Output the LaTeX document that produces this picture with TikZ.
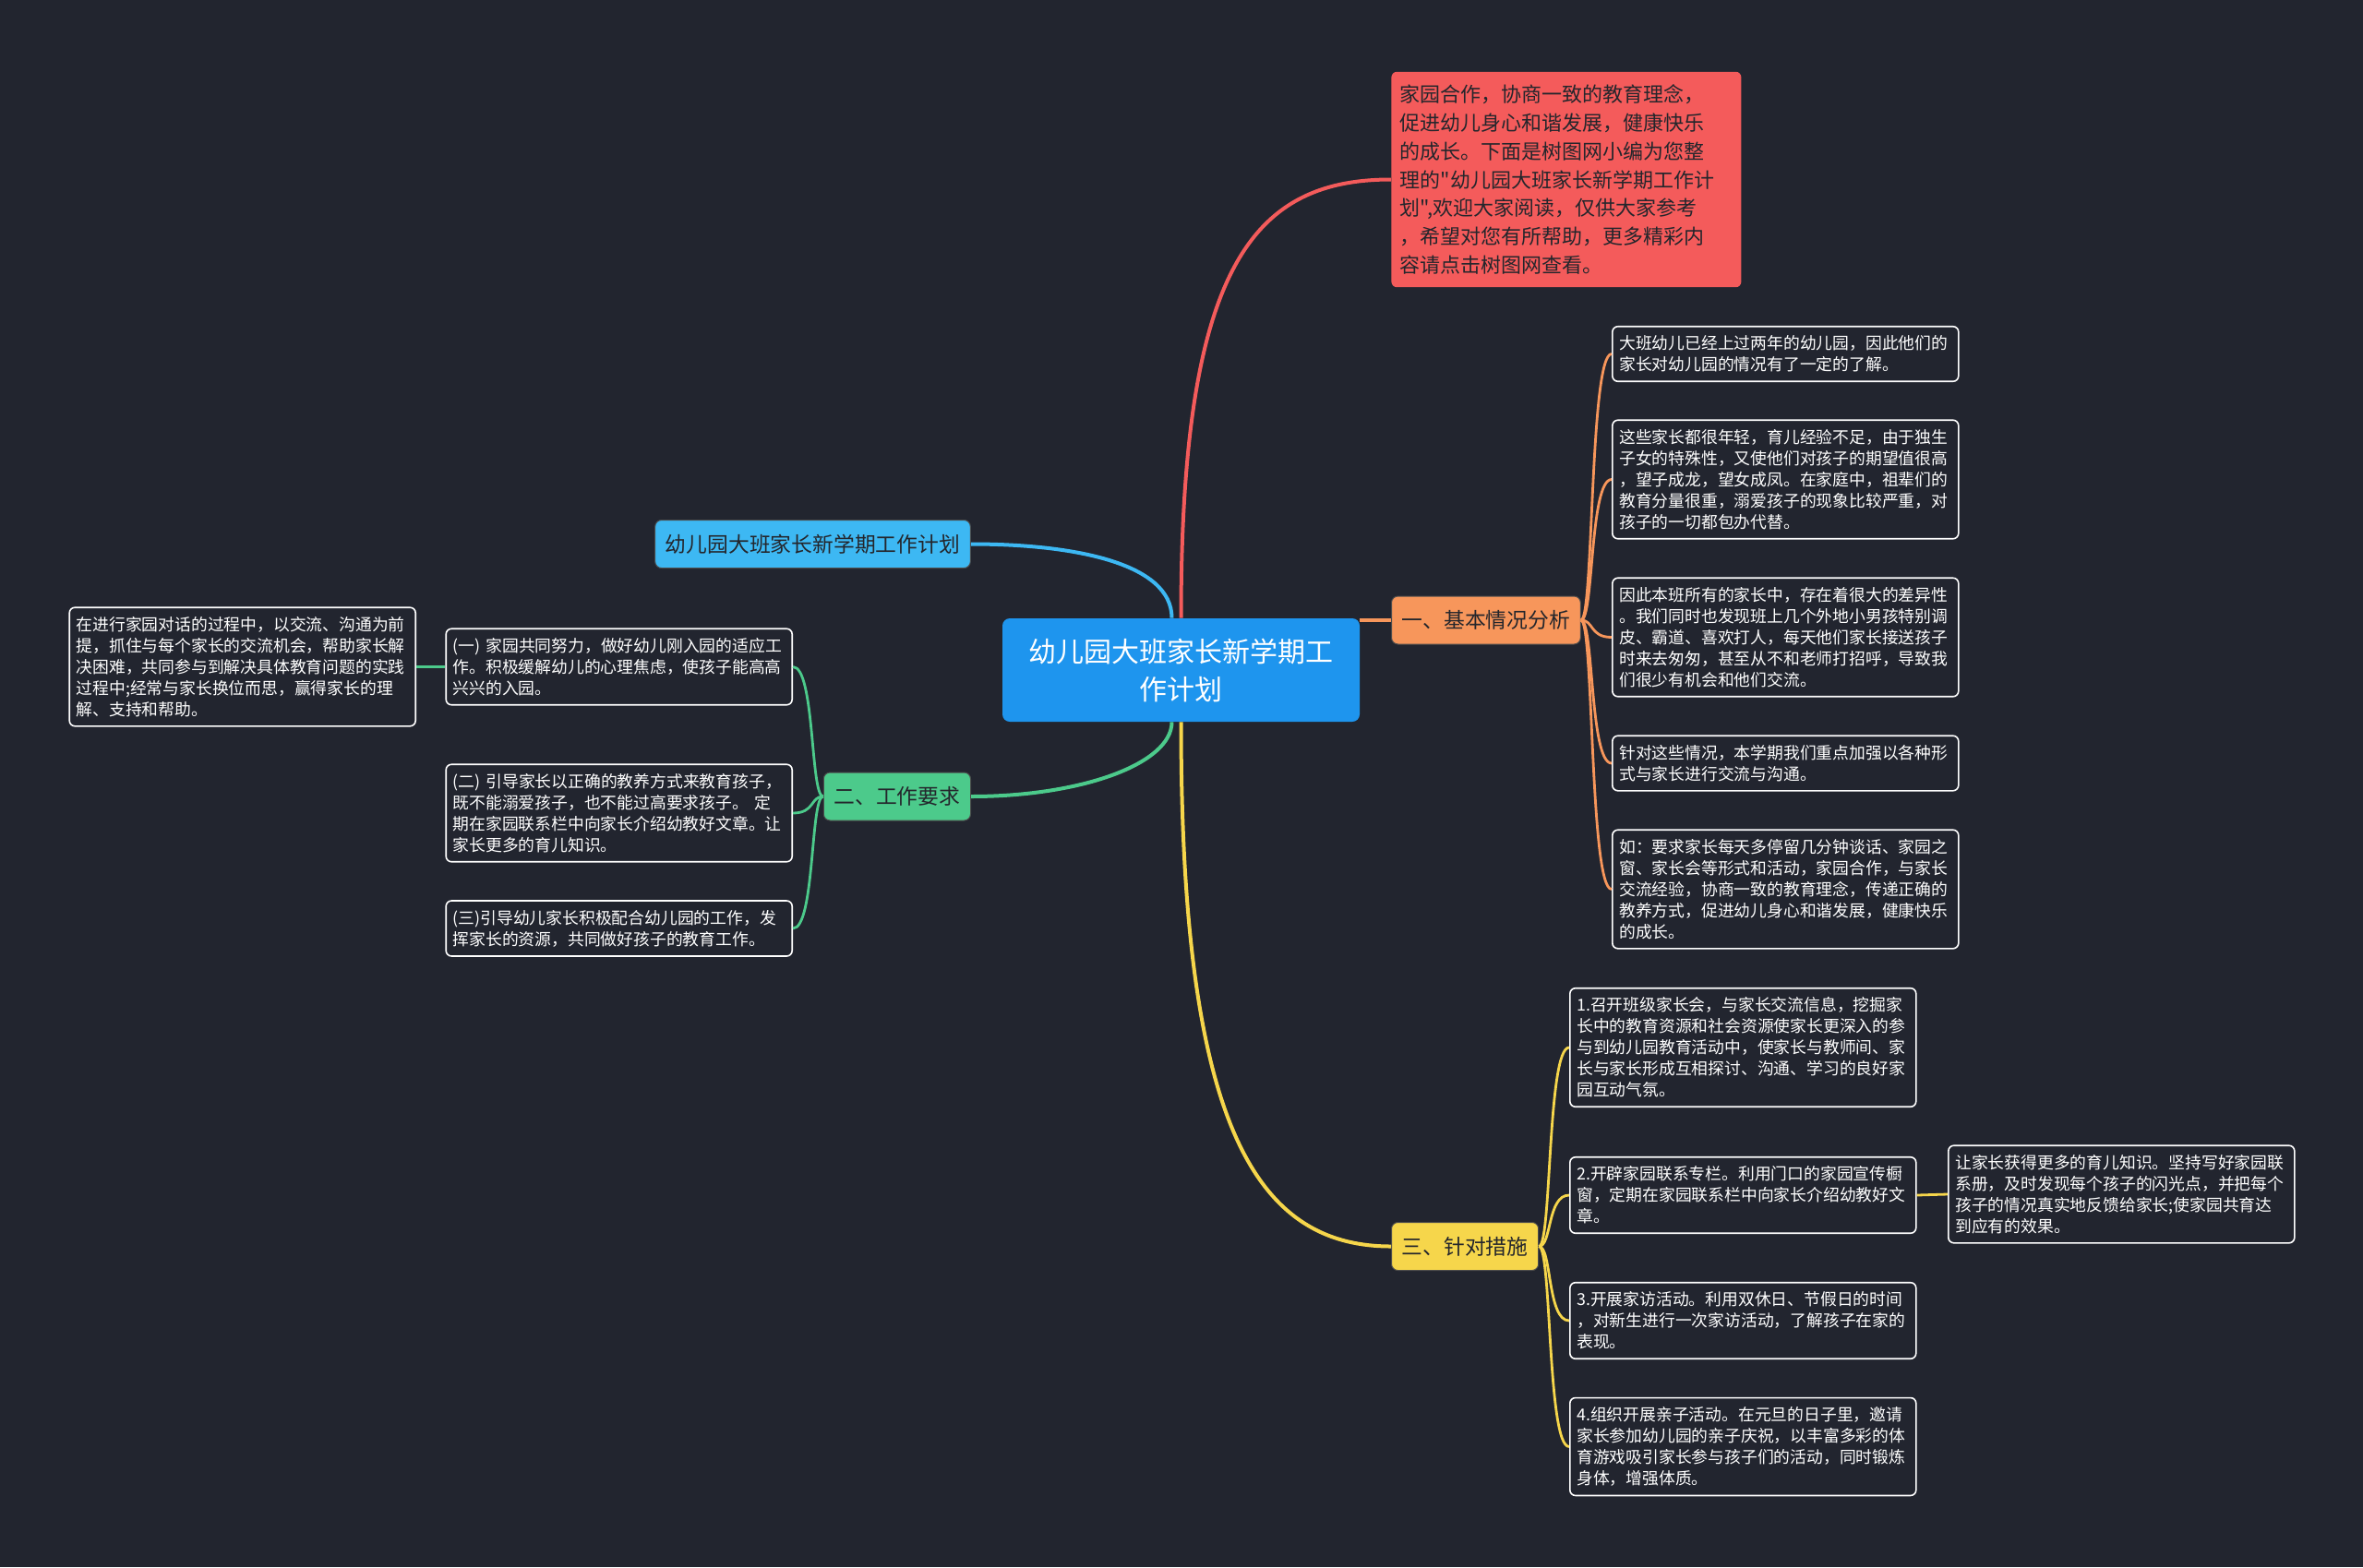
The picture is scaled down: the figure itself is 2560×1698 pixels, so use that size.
\documentclass[tikz,border=0pt]{standalone}
\usepackage{fontspec}
\setmainfont{Noto Sans CJK SC}[Ligatures=TeXOff]
\usetikzlibrary{positioning}

\definecolor{bgcol}{HTML}{22252F}
\definecolor{rootcol}{HTML}{1E95EE}
\definecolor{redcol}{HTML}{F45B5B}
\definecolor{bluecol}{HTML}{3DB8F3}
\definecolor{orangecol}{HTML}{F7965B}
\definecolor{greencol}{HTML}{4CCA8B}
\definecolor{yellowcol}{HTML}{F6D64B}
\definecolor{darktext}{HTML}{24262C}

\begin{document}
\begin{tikzpicture}[x=0.5pt, y=-0.5pt,
    rootbox/.style={fill=rootcol, rounded corners=4pt, text=white, align=center,
        minimum width=193.5pt, minimum height=56pt, inner sep=0pt,
        font=\fontsize{15}{20.5}\selectfont},
    branch/.style={fill=#1, draw=black!70, line width=0.5pt, rounded corners=3.5pt,
        text=darktext, inner xsep=5.6pt, minimum height=26pt,
        font=\fontsize{11.4}{14}\selectfont},
    leaf/.style={draw=white, line width=0.8pt, rounded corners=3pt, fill=bgcol,
        text=white, text width=180pt, align=left, inner xsep=3.75pt, inner ysep=5pt,
        font=\fontsize{8.9}{11.5}\selectfont},
    mainline/.style={line width=2pt, draw=#1},
    subline/.style={line width=1.4pt, draw=#1}]

    % Background
    \fill[bgcol] (0,0) rectangle (2560,1698);
    \useasboundingbox (0,0) rectangle (2560,1698);

    % Root
    \node[rootbox] (root) at (1279.5,726) {幼儿园大班家长新学期工\\作计划};

    % Main branches
    \node[fill=redcol, rounded corners=3pt, text=darktext, text width=180pt, align=left,
        inner xsep=4.75pt, inner ysep=7pt, font=\fontsize{11}{15.4}\selectfont,
        anchor=west] (intro) at (1507,194.5)
        {家园合作，协商一致的教育理念，\\促进幼儿身心和谐发展，健康快乐\\的成长。下面是树图网小编为您整\\理的"幼儿园大班家长新学期工作计\\划",欢迎大家阅读，仅供大家参考\\，希望对您有所帮助，更多精彩内\\容请点击树图网查看。};
    \node[branch=bluecol] (title) at (880.5,589.5) {幼儿园大班家长新学期工作计划};
    \node[branch=orangecol, anchor=west] (basic) at (1507,672) {一、基本情况分析};
    \node[branch=greencol, anchor=east] (work) at (1052,863) {二、工作要求};
    \node[branch=yellowcol, anchor=west] (measure) at (1507,1350.5) {三、针对措施};

    % Basic analysis
    \node[leaf, anchor=west] (b1) at (1746,383.5)
        {大班幼儿已经上过两年的幼儿园，因此他们的\\家长对幼儿园的情况有了一定的了解。};
    \node[leaf, anchor=west] (b2) at (1746,519.5)
        {这些家长都很年轻，育儿经验不足，由于独生\\子女的特殊性，又使他们对孩子的期望值很高\\，望子成龙，望女成凤。在家庭中，祖辈们的\\教育分量很重，溺爱孩子的现象比较严重，对\\孩子的一切都包办代替。};
    \node[leaf, anchor=west] (b3) at (1746,690.5)
        {因此本班所有的家长中，存在着很大的差异性\\。我们同时也发现班上几个外地小男孩特别调\\皮、霸道、喜欢打人，每天他们家长接送孩子\\时来去匆匆，甚至从不和老师打招呼，导致我\\们很少有机会和他们交流。};
    \node[leaf, anchor=west] (b4) at (1746,827)
        {针对这些情况，本学期我们重点加强以各种形\\式与家长进行交流与沟通。};
    \node[leaf, anchor=west] (b5) at (1746,963.5)
        {如：要求家长每天多停留几分钟谈话、家园之\\窗、家长会等形式和活动，家园合作，与家长\\交流经验，协商一致的教育理念，传递正确的\\教养方式，促进幼儿身心和谐发展，健康快乐\\的成长。};

    % Work requirements
    \node[leaf, anchor=east] (w1) at (859,722.5)
        {(一) 家园共同努力，做好幼儿刚入园的适应工\\作。积极缓解幼儿的心理焦虑，使孩子能高高\\兴兴的入园。};
    \node[leaf, anchor=east] (w1a) at (451,722.5)
        {在进行家园对话的过程中，以交流、沟通为前\\提，抓住与每个家长的交流机会，帮助家长解\\决困难，共同参与到解决具体教育问题的实践\\过程中;经常与家长换位而思，赢得家长的理\\解、支持和帮助。};
    \node[leaf, anchor=east] (w2) at (859,881)
        {(二) 引导家长以正确的教养方式来教育孩子，\\既不能溺爱孩子，也不能过高要求孩子。 定\\期在家园联系栏中向家长介绍幼教好文章。让\\家长更多的育儿知识。};
    \node[leaf, anchor=east] (w3) at (859,1006)
        {(三)引导幼儿家长积极配合幼儿园的工作，发\\挥家长的资源，共同做好孩子的教育工作。};

    % Measures
    \node[leaf, anchor=west] (m1) at (1700,1135)
        {1.召开班级家长会，与家长交流信息，挖掘家\\长中的教育资源和社会资源使家长更深入的参\\与到幼儿园教育活动中，使家长与教师间、家\\长与家长形成互相探讨、沟通、学习的良好家\\园互动气氛。};
    \node[leaf, anchor=west] (m2) at (1700,1295)
        {2.开辟家园联系专栏。利用门口的家园宣传橱\\窗，定期在家园联系栏中向家长介绍幼教好文\\章。};
    \node[leaf, anchor=west] (m2a) at (2110,1294)
        {让家长获得更多的育儿知识。坚持写好家园联\\系册，及时发现每个孩子的闪光点，并把每个\\孩子的情况真实地反馈给家长;使家园共育达\\到应有的效果。};
    \node[leaf, anchor=west] (m3) at (1700,1431)
        {3.开展家访活动。利用双休日、节假日的时间\\，对新生进行一次家访活动，了解孩子在家的\\表现。};
    \node[leaf, anchor=west] (m4) at (1700,1567.5)
        {4.组织开展亲子活动。在元旦的日子里，邀请\\家长参加幼儿园的亲子庆祝，以丰富多彩的体\\育游戏吸引家长参与孩子们的活动，同时锻炼\\身体，增强体质。};

    % Root connectors
    \draw[mainline=redcol] (root.north) .. controls +(0,-380) and +(-150,0) .. (intro.west);
    \draw[mainline=bluecol] ([xshift=-5pt]root.north) .. controls +(0,-60) and +(110,0) .. (title.east);
    \draw[mainline=orangecol] (basic.west) -- (basic.west -| root.east);
    \draw[mainline=greencol] ([xshift=-5pt]root.south) .. controls +(0,45) and +(120,0) .. (work.east);
    \draw[mainline=yellowcol] (root.south) .. controls +(0,430) and +(-150,0) .. (measure.west);

    % Branch connectors
    \foreach \leafname in {b1,b2,b3,b4,b5}
        \draw[subline=orangecol] (basic.east) .. controls +(14,0) and +(-24,0) .. (\leafname.west);
    \foreach \leafname in {w1,w2,w3}
        \draw[subline=greencol] (work.west) .. controls +(-14,0) and +(24,0) .. (\leafname.east);
    \foreach \leafname in {m1,m2,m3,m4}
        \draw[subline=yellowcol] (measure.east) .. controls +(14,0) and +(-24,0) .. (\leafname.west);
    \draw[subline=greencol] (w1.west) -- (w1a.east);
    \draw[subline=yellowcol] (m2.east) -- (m2a.west);

\end{tikzpicture}
\end{document}
